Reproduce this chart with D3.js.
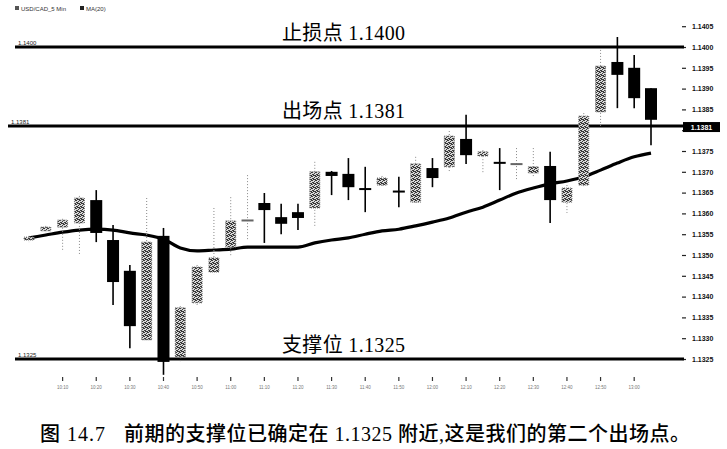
<!DOCTYPE html>
<html><head><meta charset="utf-8">
<script src="https://cdn.jsdelivr.net/npm/d3@7"></script>
<style>body{margin:0;background:#fff;}svg{display:block;}</style>
</head><body>
<svg id="c" width="727" height="449"></svg>
<script>
// ---- data (USD/CAD 5 Min) ----
const opens  = [1.13536,1.13558,1.13567,1.13577,1.13632,1.13536,1.13462,1.13296,1.13546,1.13255,1.13385,1.13459,1.13519,1.13582,1.13625,1.13591,1.13603,1.13613,1.13700,1.13695,1.13661,1.13668,1.13654,1.13627,1.13709,1.13712,1.13779,1.13738,1.13724,1.13716,1.13697,1.13714,1.13627,1.13668,1.13844,1.13964,1.13950,1.13901];
const highs  = [1.13546,1.13570,1.13587,1.13642,1.13656,1.13572,1.13476,1.13637,1.13565,1.13377,1.13476,1.13613,1.13639,1.13692,1.13649,1.13623,1.13623,1.13724,1.13702,1.13733,1.13712,1.13690,1.13688,1.13736,1.13733,1.13798,1.13837,1.13752,1.13757,1.13757,1.13757,1.13748,1.13668,1.13841,1.13993,1.14024,1.13981,1.13901];
const lows   = [1.13531,1.13555,1.13512,1.13498,1.13531,1.13380,1.13276,1.13293,1.13212,1.13240,1.13380,1.13454,1.13495,1.13536,1.13529,1.13550,1.13560,1.13567,1.13644,1.13632,1.13603,1.13663,1.13615,1.13625,1.13663,1.13700,1.13719,1.13697,1.13656,1.13680,1.13688,1.13577,1.13601,1.13663,1.13808,1.13853,1.13853,1.13764];
const closes = [1.13543,1.13567,1.13584,1.13637,1.13553,1.13435,1.13329,1.13531,1.13243,1.13373,1.13471,1.13493,1.13582,1.13584,1.13608,1.13575,1.13589,1.13700,1.13690,1.13663,1.13656,1.13685,1.13651,1.13719,1.13685,1.13786,1.13740,1.13748,1.13719,1.13721,1.13712,1.13632,1.13661,1.13834,1.13954,1.13933,1.13877,1.13825];
const ma20   = [1.13541,1.13548,1.13555,1.13560,1.13562,1.13560,1.13553,1.13548,1.13538,1.13517,1.13510,1.13512,1.13514,1.13519,1.13519,1.13519,1.13519,1.13529,1.13536,1.13541,1.13550,1.13558,1.13562,1.13570,1.13579,1.13589,1.13603,1.13615,1.13632,1.13649,1.13661,1.13671,1.13678,1.13688,1.13704,1.13721,1.13736,1.13745];
const yTicks = [1.1405,1.1400,1.1395,1.1390,1.1385,1.1380,1.1375,1.1370,1.1365,1.1360,1.1355,1.1350,1.1345,1.1340,1.1335,1.1330,1.1325];
const xTickIdx = [2,4,6,8,10,12,14,16,18,20,22,24,26,28,30,32,34,36];
const xTickLabels = ["10:10","10:20","10:30","10:40","10:50","11:00","11:10","11:20","11:30","11:40","11:50","12:00","12:10","12:20","12:30","12:40","12:50","13:00"];
const levels = [1.1400, 1.1381, 1.1325];
const levelLabels = ["1.1400","1.1381","1.1325"];
const annotations = ["止损点 1.1400","出场点 1.1381","支撑位 1.1325"];
const currentPrice = 1.1381;
const legendItems = ["USD/CAD_5 Min","MA(20)"];
const caption1 = "图 14.7";
const caption2 = "前期的支撑位已确定在 1.1325 附近,这是我们的第二个出场点。";

const svg = d3.select("#c");
const x = d3.scaleLinear().domain([0, opens.length-1]).range([29, 651]);
const y = d3.scaleLinear().domain([1.1325, 1.1405]).range([359, 26.2]);

// stipple pattern for up candles
const defs = svg.append("defs");
const pat = defs.append("pattern").attr("id","stip").attr("width",4).attr("height",4).attr("patternUnits","userSpaceOnUse");
pat.append("rect").attr("width",4).attr("height",4).attr("fill","#d8d8d8");
[[0,0],[2,1],[1,2],[3,3],[3,0],[1,3],[0,2],[2,3]].forEach(p=>pat.append("rect").attr("x",p[0]).attr("y",p[1]).attr("width",1).attr("height",1).attr("fill","#3a3a3a"));

// legend
const lg = svg.append("g").attr("font-family","Liberation Sans, Arial").attr("font-size",6).attr("fill","#333");
lg.append("rect").attr("x",15).attr("y",6).attr("width",4).attr("height",4).attr("fill","#555");
lg.append("text").attr("x",21).attr("y",10.5).text(legendItems[0]);
lg.append("rect").attr("x",80).attr("y",6).attr("width",4).attr("height",4).attr("fill","#222");
lg.append("text").attr("x",86).attr("y",10.5).text(legendItems[1]);

// right axis (label hidden where the price box covers it)
const ax = svg.append("g").attr("transform","translate(682,0)")
  .call(d3.axisRight(y).tickValues(yTicks).tickSize(4).tickPadding(6).tickFormat(d3.format(".4f")));
ax.select(".domain").remove();
ax.selectAll("text").attr("font-family","Liberation Sans, Arial").attr("font-size",7).attr("font-weight","bold").attr("fill","#111");
ax.selectAll("line").attr("stroke","#222").attr("stroke-width",1.2);
ax.selectAll(".tick").filter(d => Math.abs(d - currentPrice) < 0.0003).select("text").remove();

// level lines
const lvStart = [15, 8, 15];
levels.forEach((v,i)=>{
  svg.append("line").attr("x1",lvStart[i]).attr("x2",684).attr("y1",y(v)).attr("y2",y(v)).attr("stroke","#000").attr("stroke-width",3);
  svg.append("text").attr("x",lvStart[i]+3).attr("y",y(v)-2.5).attr("font-family","Liberation Sans, Arial").attr("font-size",6).attr("fill","#222").text(levelLabels[i]);
});

// x ticks
const xt = svg.append("g");
xTickIdx.forEach((idx,i)=>{
  xt.append("line").attr("x1",x(idx)).attr("x2",x(idx)).attr("y1",377).attr("y2",381).attr("stroke","#333").attr("stroke-width",1.2);
  xt.append("text").attr("x",x(idx)).attr("y",389).attr("text-anchor","middle").attr("font-family","Liberation Sans, Arial").attr("font-size",4.5).attr("fill","#777").text(xTickLabels[i]);
});

// MA line
svg.append("path").datum(ma20)
  .attr("d", d3.line().x((d,i)=>x(i)).y(d=>y(d)).curve(d3.curveMonotoneX))
  .attr("fill","none").attr("stroke","#000").attr("stroke-width",3.2);

// candles
const bw = 12;
const cg = svg.append("g");
opens.forEach((o,i)=>{
  const c = closes[i], up = c >= o;
  const cx = x(i);
  const top = y(Math.max(o,c)), bot = y(Math.min(o,c));
  const g = cg.append("g");
  g.append("line").attr("x1",cx).attr("x2",cx).attr("y1",y(highs[i])).attr("y2",y(lows[i]))
    .attr("stroke", up ? "#888" : "#000").attr("stroke-width", up ? 1 : 1.6)
    .attr("stroke-dasharray", up ? "1,2" : null);
  const h = bot - top;
  if (h < 2.5) {
    g.append("rect").attr("x",cx-bw/2).attr("y",(top+bot)/2-1).attr("width",bw).attr("height",2).attr("fill", up ? "#666" : "#000");
  } else if (up) {
    g.append("rect").attr("x",cx-bw/2+1).attr("y",top).attr("width",bw-2).attr("height",h)
      .attr("fill","url(#stip)").attr("stroke","#777").attr("stroke-width",1).attr("stroke-dasharray","1,1");
  } else {
    g.append("rect").attr("x",cx-bw/2).attr("y",top).attr("width",bw).attr("height",h).attr("fill","#000");
  }
});

// current price box
svg.append("rect").attr("x",683).attr("y",y(currentPrice)-4).attr("width",37).attr("height",10).attr("fill","#000");
svg.append("text").attr("x",701.5).attr("y",y(currentPrice)+3.5).attr("text-anchor","middle").attr("font-family","Liberation Sans, Arial").attr("font-size",7).attr("font-weight","bold").attr("fill","#fff").text(d3.format(".4f")(currentPrice));

// annotations
const annOff = [-7, -8, -7];
annotations.forEach((t,i)=>{
  svg.append("text").attr("x",282).attr("y",y(levels[i])+annOff[i]).attr("font-family","Liberation Serif, 'Noto Sans CJK SC'").attr("font-size",20).attr("textLength",123).attr("lengthAdjust","spacing").attr("fill","#000").text(t);
});

// caption
const cf = "Liberation Serif, 'Noto Sans CJK SC'";
svg.append("text").attr("x",40).attr("y",441).attr("font-family",cf).attr("font-size",20).attr("font-weight","500").attr("textLength",65).attr("lengthAdjust","spacing").text(caption1);
svg.append("text").attr("x",124).attr("y",441).attr("font-family",cf).attr("font-size",20).attr("font-weight","500").attr("textLength",566).attr("lengthAdjust","spacing").text(caption2);
</script>
</body></html>
